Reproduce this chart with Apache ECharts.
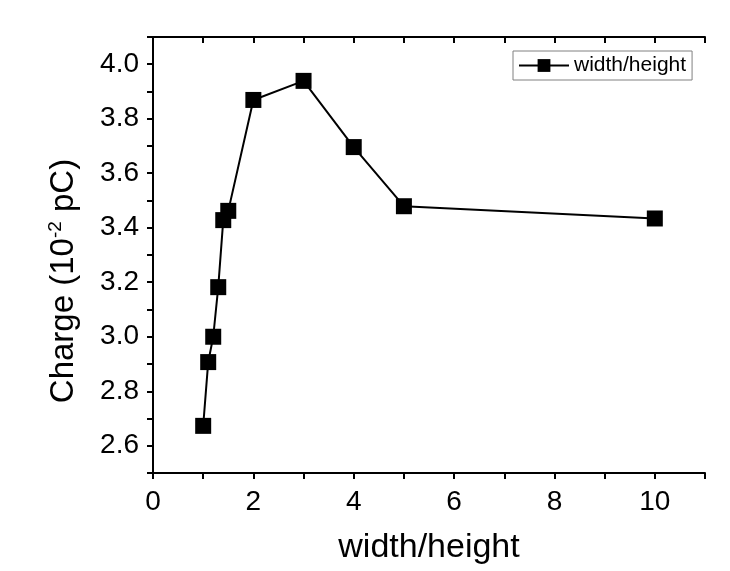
<!DOCTYPE html>
<html>
<head>
<meta charset="utf-8">
<script src="https://cdn.jsdelivr.net/npm/echarts@6/dist/echarts.min.js"></script>
<style>
  html, body { margin: 0; padding: 0; background: #fff; }
  #main { width: 730px; height: 571px; }
</style>
</head>
<body>
<div id="main"></div>
<script>
// width/height ratio vs charge (10^-2 pC)
var ratio = [1, 1.1, 1.2, 1.3, 1.4, 1.5, 2, 3, 4, 5, 10];
var charge = [2.673, 2.907, 3.0, 3.182, 3.428, 3.462, 3.869, 3.939, 3.696, 3.479, 3.434];
var seriesName = 'width/height';

var font = '"Liberation Sans", Arial, sans-serif';
var points = ratio.map(function (r, i) { return [r, charge[i]]; });

var chart = echarts.init(document.getElementById('main'));

// only even x / every 0.2 on y gets a label
function xLabel(v) { return Math.round(v) % 2 === 0 ? String(Math.round(v)) : ''; }
function yLabel(v) {
  var k = Math.round(v * 10);
  return k % 2 === 0 ? (k / 10).toFixed(1) : '';
}

chart.setOption({
  backgroundColor: '#fff',
  animation: false,
  grid: { left: 153, right: 25, top: 37, bottom: 98 },
  legend: {
    data: [seriesName],
    left: 513, top: 51,
    padding: [4, 6, 4, 5],
    borderColor: '#808080', borderWidth: 1,
    itemWidth: 50, itemHeight: 16, itemGap: 6,
    textStyle: { fontFamily: font, fontSize: 21, color: '#000' }
  },
  xAxis: [{
    type: 'value', min: 0, max: 11, interval: 1,
    name: 'width/height', nameLocation: 'middle', nameGap: 58,
    nameTextStyle: { fontFamily: font, fontSize: 34, color: '#000' },
    axisLine: { lineStyle: { color: '#000', width: 2 } },
    axisTick: { inside: false, length: 6, lineStyle: { color: '#000', width: 2 } },
    axisLabel: { formatter: xLabel, margin: 15, fontFamily: font, fontSize: 28, color: '#000' },
    splitLine: { show: false }
  }, {
    type: 'value', position: 'top', min: 0, max: 11, interval: 1,
    axisLine: { lineStyle: { color: '#000', width: 2 } },
    axisTick: { inside: true, length: 6, lineStyle: { color: '#000', width: 2 } },
    axisLabel: { show: false },
    splitLine: { show: false }
  }],
  yAxis: [{
    type: 'value', min: 2.5, max: 4.1, interval: 0.1,
    axisLine: { lineStyle: { color: '#000', width: 2 } },
    axisTick: { inside: false, length: 6, lineStyle: { color: '#000', width: 2 } },
    axisLabel: { formatter: yLabel, margin: 14, fontFamily: font, fontSize: 28, color: '#000' },
    splitLine: { show: false }
  }, {
    type: 'value', position: 'right', min: 2.5, max: 4.1, interval: 0.1,
    axisLine: { lineStyle: { color: '#000', width: 2 } },
    axisTick: { inside: true, length: 6, lineStyle: { color: '#000', width: 2 } },
    axisLabel: { show: false },
    splitLine: { show: false }
  }],
  graphic: [{
    type: 'text',
    x: 64, y: 281,
    rotation: Math.PI / 2,
    style: {
      text: '{m|Charge (10}{s|-2}{m| pC)}',
      align: 'center', verticalAlign: 'middle',
      rich: {
        m: { fontFamily: font, fontSize: 33, fill: '#000' },
        s: { fontFamily: font, fontSize: 19, fill: '#000', padding: [0, 0, 16, 0] }
      }
    }
  }],
  series: [{
    name: seriesName,
    type: 'line',
    data: points,
    xAxisIndex: 0, yAxisIndex: 0,
    symbol: 'rect', symbolSize: 16,
    itemStyle: { color: '#000' },
    lineStyle: { color: '#000', width: 2 }
  }]
});
</script>
</body>
</html>
